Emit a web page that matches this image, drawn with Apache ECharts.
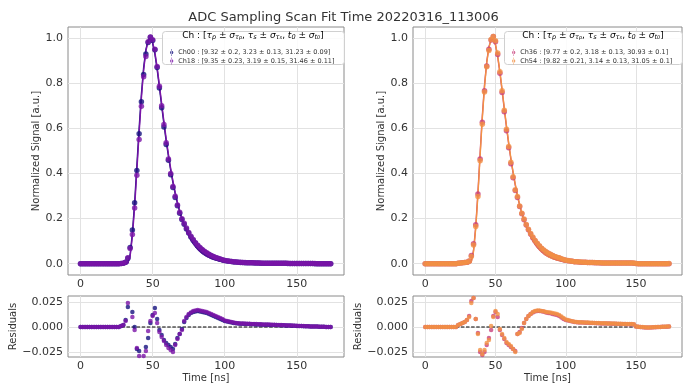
<!DOCTYPE html>
<html>
<head>
<meta charset="utf-8">
<script src="https://cdn.jsdelivr.net/npm/echarts@6/dist/echarts.min.js"></script>
<style>
  html, body { margin: 0; padding: 0; background: #ffffff; }
  #chart { width: 687px; height: 387px; }
</style>
</head>
<body>
<div id="chart"></div>
<script>
// Sample times of the ADC sampling scan [ns]
const timeNs = [
  0, 1.5625, 3.125, 4.6875, 6.25, 7.8125, 9.375, 10.9375, 12.5, 14.0625,
  15.625, 17.1875, 18.75, 20.3125, 21.875, 23.4375, 25, 26.5625, 28.125, 29.6875,
  31.25, 32.8125, 34.375, 35.9375, 37.5, 39.0625, 40.625, 42.1875, 43.75, 45.3125,
  46.875, 48.4375, 50, 51.5625, 53.125, 54.6875, 56.25, 57.8125, 59.375, 60.9375,
  62.5, 64.0625, 65.625, 67.1875, 68.75, 70.3125, 71.875, 73.4375, 75, 76.5625,
  78.125, 79.6875, 81.25, 82.8125, 84.375, 85.9375, 87.5, 89.0625, 90.625, 92.1875,
  93.75, 95.3125, 96.875, 98.4375, 100, 101.5625, 103.125, 104.6875, 106.25, 107.8125,
  109.375, 110.9375, 112.5, 114.0625, 115.625, 117.1875, 118.75, 120.3125, 121.875, 123.4375,
  125, 126.5625, 128.125, 129.6875, 131.25, 132.8125, 134.375, 135.9375, 137.5, 139.0625,
  140.625, 142.1875, 143.75, 145.3125, 146.875, 148.4375, 150, 151.5625, 153.125, 154.6875,
  156.25, 157.8125, 159.375, 160.9375, 162.5, 164.0625, 165.625, 167.1875, 168.75, 170.3125,
  171.875, 173.4375
];

// Tick labels
const timeTicks = [0, 50, 100, 150];
const signalTicks = [0, 0.2, 0.4, 0.6, 0.8, 1.0];
const residTicks = [-0.025, 0, 0.025];

// Channel labels with fit parameters
const nameCh00 = 'Ch00 : [9.32 ± 0.2, 3.23 ± 0.13, 31.23 ± 0.09]';
const nameCh18 = 'Ch18 : [9.35 ± 0.23, 3.19 ± 0.15, 31.46 ± 0.11]';
const nameCh36 = 'Ch36 : [9.77 ± 0.2, 3.18 ± 0.13, 30.93 ± 0.1]';
const nameCh54 = 'Ch54 : [9.82 ± 0.21, 3.14 ± 0.13, 31.05 ± 0.1]';

// ---- Ch00 ----
const signalCh00 = [
  0, 0, 0, 0, 0, 0, 0, 0, 0, 0,
  0, 0, 0, 0, 0, 0, 0, 0, 0.001, 0.002,
  0.007, 0.024, 0.072, 0.150, 0.270, 0.413, 0.576, 0.719, 0.839, 0.930,
  0.981, 1.004, 0.990, 0.949, 0.870, 0.779, 0.692, 0.607, 0.529, 0.459,
  0.395, 0.338, 0.294, 0.257, 0.224, 0.196, 0.175, 0.154, 0.136, 0.119,
  0.104, 0.0915, 0.080, 0.0695, 0.061, 0.0535, 0.047, 0.041, 0.035, 0.031,
  0.027, 0.023, 0.020, 0.017, 0.014, 0.0125, 0.011, 0.0095, 0.008, 0.0073,
  0.0065, 0.0058, 0.0052, 0.0048, 0.0044, 0.0041, 0.0038, 0.0035, 0.0033, 0.0031,
  0.0024, 0.0023, 0.0023, 0.0022, 0.0021, 0.0021, 0.002, 0.0019, 0.0018, 0.0018,
  0.0017, 0.0016, 0.0015, 0.0014, 0.0013, 0.0012, 0.0011, 0.001, 0.0009, 0.0008,
  0.0008, 0.0007, 0.0006, 0.0005, 0.0004, 0.0004, 0.0003, 0.0002, 0.0002, 0.0001,
  0.0001, 0
];
const fitCh00 = [
  0, 0, 0, 0, 0, 0, 0, 0, 0, 0,
  0, 0, 0, 0, 0, 0, 0, 0, 0, 0,
  0, 0.004, 0.040, 0.135, 0.270, 0.435, 0.600, 0.750, 0.870, 0.950,
  0.992, 1.000, 0.978, 0.930, 0.862, 0.782, 0.700, 0.620, 0.545, 0.477,
  0.415, 0.360, 0.311, 0.268, 0.231, 0.198, 0.170, 0.145, 0.124, 0.105,
  0.089, 0.076, 0.064, 0.054, 0.046, 0.039, 0.033, 0.028, 0.023, 0.020,
  0.017, 0.014, 0.012, 0.010, 0.008, 0.007, 0.006, 0.005, 0.004, 0.0035,
  0.003, 0.0025, 0.002, 0.0017, 0.0014, 0.0012, 0.001, 0.0008, 0.0007, 0.0006,
  0, 0, 0, 0, 0, 0, 0, 0, 0, 0,
  0, 0, 0, 0, 0, 0, 0, 0, 0, 0,
  0, 0, 0, 0, 0, 0, 0, 0, 0, 0,
  0, 0
];
const residCh00 = [
  0, 0, 0, 0, 0, 0, 0, 0, 0, 0,
  0, 0, 0, 0, 0, 0, 0, 0, 0.001, 0.002,
  0.007, 0.020, 0.032, 0.015, 0.000, -0.022, -0.024, -0.031, -0.031, -0.020,
  -0.011, 0.004, 0.012, 0.019, 0.008, -0.003, -0.008, -0.013, -0.016, -0.018,
  -0.020, -0.022, -0.017, -0.011, -0.007, -0.002, 0.005, 0.009, 0.012, 0.014,
  0.015, 0.0155, 0.016, 0.0155, 0.015, 0.0145, 0.014, 0.013, 0.012, 0.011,
  0.010, 0.009, 0.008, 0.007, 0.006, 0.0055, 0.005, 0.0045, 0.004, 0.0038,
  0.0035, 0.0033, 0.0032, 0.0031, 0.003, 0.0029, 0.0028, 0.0027, 0.0026, 0.0025,
  0.0024, 0.0023, 0.0023, 0.0022, 0.0021, 0.0021, 0.002, 0.0019, 0.0018, 0.0018,
  0.0017, 0.0016, 0.0015, 0.0014, 0.0013, 0.0012, 0.0011, 0.001, 0.0009, 0.0008,
  0.0008, 0.0007, 0.0006, 0.0005, 0.0004, 0.0004, 0.0003, 0.0002, 0.0002, 0.0001,
  0.0001, 0
];

// ---- Ch18 ----
const signalCh18 = [
  0, 0, 0, 0, 0, 0, 0, 0, 0, 0,
  0, 0, 0, 0, 0, 0, 0, 0, 0.001, 0.002,
  0.006, 0.027, 0.067, 0.130, 0.247, 0.392, 0.551, 0.699, 0.829, 0.919,
  0.985, 1.006, 0.993, 0.951, 0.875, 0.787, 0.701, 0.617, 0.537, 0.465,
  0.400, 0.342, 0.299, 0.261, 0.228, 0.199, 0.179, 0.158, 0.139, 0.1215,
  0.107, 0.0935, 0.082, 0.0715, 0.063, 0.0555, 0.049, 0.042, 0.037, 0.032,
  0.028, 0.024, 0.021, 0.018, 0.0145, 0.013, 0.0115, 0.010, 0.0085, 0.0075,
  0.0068, 0.0061, 0.0055, 0.0051, 0.0047, 0.0044, 0.0041, 0.0038, 0.0036, 0.0034,
  0.0027, 0.0026, 0.0025, 0.0025, 0.0024, 0.0023, 0.0022, 0.0021, 0.002, 0.0019,
  0.0018, 0.0017, 0.0016, 0.0015, 0.0014, 0.0013, 0.0012, 0.0011, 0.001, 0.0009,
  0.0008, 0.0007, 0.0006, 0.0005, 0.0005, 0.0004, 0.0003, 0.0003, 0.0002, 0.0001,
  0.0001, 0
];
const fitCh18 = [
  0, 0, 0, 0, 0, 0, 0, 0, 0, 0,
  0, 0, 0, 0, 0, 0, 0, 0, 0, 0,
  0, 0.003, 0.032, 0.120, 0.250, 0.413, 0.580, 0.733, 0.858, 0.943,
  0.989, 1.000, 0.982, 0.937, 0.871, 0.792, 0.711, 0.631, 0.555, 0.486,
  0.423, 0.367, 0.317, 0.273, 0.235, 0.202, 0.173, 0.148, 0.126, 0.107,
  0.091, 0.077, 0.065, 0.055, 0.047, 0.040, 0.034, 0.028, 0.024, 0.020,
  0.017, 0.014, 0.012, 0.010, 0.008, 0.007, 0.006, 0.005, 0.004, 0.0035,
  0.003, 0.0025, 0.002, 0.0017, 0.0014, 0.0012, 0.001, 0.0008, 0.0007, 0.0006,
  0, 0, 0, 0, 0, 0, 0, 0, 0, 0,
  0, 0, 0, 0, 0, 0, 0, 0, 0, 0,
  0, 0, 0, 0, 0, 0, 0, 0, 0, 0,
  0, 0
];
const residCh18 = [
  0, 0, 0, 0, 0, 0, 0, 0, 0, 0,
  0, 0, 0, 0, 0, 0, 0, 0, 0.001, 0.002,
  0.006, 0.024, 0.035, 0.010, -0.003, -0.021, -0.029, -0.034, -0.029, -0.024,
  -0.004, 0.006, 0.011, 0.014, 0.004, -0.005, -0.010, -0.014, -0.018, -0.021,
  -0.023, -0.025, -0.018, -0.012, -0.007, -0.003, 0.006, 0.010, 0.013, 0.0145,
  0.016, 0.0165, 0.017, 0.0165, 0.016, 0.0155, 0.015, 0.014, 0.013, 0.012,
  0.011, 0.010, 0.009, 0.008, 0.0065, 0.006, 0.0055, 0.005, 0.0045, 0.004,
  0.0038, 0.0036, 0.0035, 0.0034, 0.0033, 0.0032, 0.0031, 0.003, 0.0029, 0.0028,
  0.0027, 0.0026, 0.0025, 0.0025, 0.0024, 0.0023, 0.0022, 0.0021, 0.002, 0.0019,
  0.0018, 0.0017, 0.0016, 0.0015, 0.0014, 0.0013, 0.0012, 0.0011, 0.001, 0.0009,
  0.0008, 0.0007, 0.0006, 0.0005, 0.0005, 0.0004, 0.0003, 0.0003, 0.0002, 0.0001,
  0.0001, 0
];

// ---- Ch36 ----
const signalCh36 = [
  0, 0, 0, 0, 0, 0, 0, 0, 0, 0,
  0, 0, 0, 0, 0, 0.002, 0.003, 0.004, 0.005, 0.007,
  0.012, 0.036, 0.089, 0.173, 0.309, 0.465, 0.627, 0.767, 0.877, 0.951,
  0.992, 1.008, 0.985, 0.928, 0.845, 0.760, 0.674, 0.590, 0.514, 0.444,
  0.381, 0.325, 0.294, 0.254, 0.222, 0.195, 0.172, 0.151, 0.132, 0.1155,
  0.1015, 0.089, 0.078, 0.0678, 0.0592, 0.0515, 0.046, 0.0408, 0.036, 0.0315,
  0.028, 0.025, 0.0215, 0.018, 0.015, 0.0135, 0.012, 0.0105, 0.009, 0.0083,
  0.0076, 0.007, 0.0064, 0.006, 0.0056, 0.0053, 0.005, 0.0047, 0.0045, 0.0043,
  0.0036, 0.0036, 0.0035, 0.0034, 0.0034, 0.0033, 0.0032, 0.0032, 0.0031, 0.003,
  0.003, 0.0029, 0.0028, 0.0028, 0.0027, 0.0026, 0.0005, 0.0002, 0, -0.0002,
  -0.0004, -0.0005, -0.0005, -0.0004, -0.0003, -0.0002, -0.0001, 0, 0.0002, 0.0003,
  0.0003, 0.0004
];
const fitCh36 = [
  0, 0, 0, 0, 0, 0, 0, 0, 0, 0,
  0, 0, 0, 0, 0, 0, 0, 0, 0, 0,
  0.001, 0.010, 0.060, 0.165, 0.315, 0.490, 0.655, 0.792, 0.895, 0.962,
  0.995, 0.997, 0.970, 0.918, 0.848, 0.768, 0.686, 0.606, 0.532, 0.464,
  0.403, 0.349, 0.301, 0.259, 0.223, 0.191, 0.164, 0.140, 0.119, 0.101,
  0.086, 0.073, 0.062, 0.052, 0.044, 0.037, 0.032, 0.027, 0.023, 0.019,
  0.016, 0.014, 0.012, 0.010, 0.008, 0.007, 0.006, 0.005, 0.004, 0.0035,
  0.003, 0.0025, 0.002, 0.0017, 0.0014, 0.0012, 0.001, 0.0008, 0.0007, 0.0006,
  0, 0, 0, 0, 0, 0, 0, 0, 0, 0,
  0, 0, 0, 0, 0, 0, 0, 0, 0, 0,
  0, 0, 0, 0, 0, 0, 0, 0, 0, 0,
  0, 0
];
const residCh36 = [
  0, 0, 0, 0, 0, 0, 0, 0, 0, 0,
  0, 0, 0, 0, 0, 0.002, 0.003, 0.004, 0.005, 0.007,
  0.011, 0.026, 0.029, 0.008, -0.006, -0.025, -0.028, -0.025, -0.018, -0.011,
  -0.003, 0.011, 0.015, 0.010, -0.003, -0.008, -0.012, -0.016, -0.018, -0.020,
  -0.022, -0.024, -0.007, -0.005, -0.001, 0.004, 0.008, 0.011, 0.013, 0.0145,
  0.0155, 0.016, 0.016, 0.0158, 0.0152, 0.0145, 0.014, 0.0138, 0.013, 0.0125,
  0.012, 0.011, 0.0095, 0.008, 0.007, 0.0065, 0.006, 0.0055, 0.005, 0.0048,
  0.0046, 0.0045, 0.0044, 0.0043, 0.0042, 0.0041, 0.004, 0.0039, 0.0038, 0.0037,
  0.0036, 0.0036, 0.0035, 0.0034, 0.0034, 0.0033, 0.0032, 0.0032, 0.0031, 0.003,
  0.003, 0.0029, 0.0028, 0.0028, 0.0027, 0.0026, 0.0005, 0.0002, 0, -0.0002,
  -0.0004, -0.0005, -0.0005, -0.0004, -0.0003, -0.0002, -0.0001, 0, 0.0002, 0.0003,
  0.0003, 0.0004
];

// ---- Ch54 ----
const signalCh54 = [
  0, 0, 0, 0, 0, 0, 0, 0, 0, 0,
  0, 0, 0, 0, 0, 0.002, 0.003, 0.004, 0.005, 0.007,
  0.011, 0.032, 0.083, 0.165, 0.298, 0.457, 0.619, 0.762, 0.874, 0.946,
  0.995, 1.008, 0.989, 0.935, 0.851, 0.767, 0.681, 0.597, 0.520, 0.450,
  0.386, 0.328, 0.298, 0.256, 0.224, 0.198, 0.174, 0.153, 0.134, 0.118,
  0.103, 0.0905, 0.0795, 0.069, 0.0608, 0.053, 0.0468, 0.0415, 0.037, 0.0325,
  0.029, 0.026, 0.0225, 0.019, 0.0155, 0.014, 0.0123, 0.0108, 0.0093, 0.0085,
  0.0078, 0.0072, 0.0066, 0.0062, 0.0058, 0.0055, 0.0052, 0.0049, 0.0047, 0.0045,
  0.0038, 0.0037, 0.0037, 0.0036, 0.0035, 0.0035, 0.0034, 0.0033, 0.0033, 0.0032,
  0.0031, 0.0031, 0.003, 0.0029, 0.0029, 0.0028, 0.0006, 0.0003, 0.0001, -0.0001,
  -0.0003, -0.0004, -0.0004, -0.0003, -0.0002, -0.0001, 0, 0.0001, 0.0002, 0.0003,
  0.0004, 0.0005
];
const fitCh54 = [
  0, 0, 0, 0, 0, 0, 0, 0, 0, 0,
  0, 0, 0, 0, 0, 0, 0, 0, 0, 0,
  0.001, 0.008, 0.054, 0.157, 0.305, 0.480, 0.646, 0.785, 0.890, 0.959,
  0.994, 0.998, 0.973, 0.922, 0.853, 0.774, 0.692, 0.612, 0.537, 0.469,
  0.408, 0.353, 0.305, 0.262, 0.226, 0.194, 0.166, 0.142, 0.121, 0.103,
  0.087, 0.074, 0.063, 0.053, 0.045, 0.038, 0.032, 0.027, 0.023, 0.019,
  0.016, 0.014, 0.012, 0.010, 0.008, 0.007, 0.006, 0.005, 0.004, 0.0035,
  0.003, 0.0025, 0.002, 0.0017, 0.0014, 0.0012, 0.001, 0.0008, 0.0007, 0.0006,
  0, 0, 0, 0, 0, 0, 0, 0, 0, 0,
  0, 0, 0, 0, 0, 0, 0, 0, 0, 0,
  0, 0, 0, 0, 0, 0, 0, 0, 0, 0,
  0, 0
];
const residCh54 = [
  0, 0, 0, 0, 0, 0, 0, 0, 0, 0,
  0, 0, 0, 0, 0, 0.002, 0.003, 0.004, 0.005, 0.007,
  0.010, 0.024, 0.029, 0.008, -0.007, -0.023, -0.027, -0.023, -0.016, -0.013,
  0.001, 0.010, 0.016, 0.013, -0.002, -0.007, -0.011, -0.015, -0.017, -0.019,
  -0.022, -0.025, -0.007, -0.006, -0.002, 0.004, 0.008, 0.011, 0.013, 0.015,
  0.016, 0.0165, 0.0165, 0.016, 0.0158, 0.015, 0.0148, 0.0145, 0.014, 0.0135,
  0.013, 0.012, 0.0105, 0.009, 0.0075, 0.007, 0.0063, 0.0058, 0.0053, 0.005,
  0.0048, 0.0047, 0.0046, 0.0045, 0.0044, 0.0043, 0.0042, 0.0041, 0.004, 0.0039,
  0.0038, 0.0037, 0.0037, 0.0036, 0.0035, 0.0035, 0.0034, 0.0033, 0.0033, 0.0032,
  0.0031, 0.0031, 0.003, 0.0029, 0.0029, 0.0028, 0.0006, 0.0003, 0.0001, -0.0001,
  -0.0003, -0.0004, -0.0004, -0.0003, -0.0002, -0.0001, 0, 0.0001, 0.0002, 0.0003,
  0.0004, 0.0005
];

// ---------------------------------------------------------------------------
const FONT = 'DejaVu Sans';
const TXT = '#333333';
const GRIDLINE = '#e2e2e2';
const FRAME = '#8a8a8a';
const colors = { ch00: '#15127e', ch18: '#7a14a8', ch36: '#c8407c', ch54: '#f39143' };

const chart = echarts.init(document.getElementById('chart'), null, { renderer: 'canvas' });

const pairs = (arr) => timeNs.map((t, i) => [t, arr[i]]);
const zeroRef = [[timeNs[0], 0], [timeNs[timeNs.length - 1], 0]];

const panels = [
  { left: 68, width: 276 },
  { left: 413, width: 269 }
];
const grids = [];
panels.forEach(p => {
  grids.push({ left: p.left, width: p.width, top: 27, height: 248,
    show: true, borderColor: FRAME, borderWidth: 1, backgroundColor: '#fff' });
  grids.push({ left: p.left, width: p.width, top: 296, height: 61,
    show: true, borderColor: FRAME, borderWidth: 1, backgroundColor: '#fff' });
});

function makeX(gridIndex, withName) {
  return {
    type: 'value', gridIndex, min: -8.7, max: 182.7,
    axisLine: { show: false },
    axisTick: { show: false, customValues: timeTicks },
    axisLabel: { customValues: timeTicks, fontSize: 11, color: TXT, fontFamily: FONT, margin: 4 },
    splitLine: { show: true, lineStyle: { color: GRIDLINE, width: 1 } },
    name: withName ? 'Time [ns]' : '', nameLocation: 'middle', nameGap: 16,
    nameTextStyle: { fontSize: 10, color: TXT, fontFamily: FONT }
  };
}
function makeYSignal(gridIndex) {
  return {
    type: 'value', gridIndex, min: -0.05, max: 1.05,
    axisLine: { show: false },
    axisTick: { show: false, customValues: signalTicks },
    axisLabel: { customValues: signalTicks, fontSize: 11, color: TXT, fontFamily: FONT, margin: 5,
      formatter: v => v.toFixed(1) },
    splitLine: { show: true, lineStyle: { color: GRIDLINE, width: 1 } },
    name: 'Normalized Signal [a.u.]', nameLocation: 'middle', nameGap: 27,
    nameTextStyle: { fontSize: 10, color: TXT, fontFamily: FONT }
  };
}
function makeYResid(gridIndex) {
  return {
    type: 'value', gridIndex, min: -0.03, max: 0.031,
    axisLine: { show: false },
    axisTick: { show: false, customValues: residTicks },
    axisLabel: { customValues: residTicks, fontSize: 11, color: TXT, fontFamily: FONT, margin: 5,
      formatter: v => v.toFixed(3).replace('-', '\u2212') },
    splitLine: { show: true, lineStyle: { color: GRIDLINE, width: 1 } },
    name: 'Residuals', nameLocation: 'middle', nameGap: 47,
    nameTextStyle: { fontSize: 10, color: TXT, fontFamily: FONT }
  };
}

const xAxes = [makeX(0, false), makeX(1, true), makeX(2, false), makeX(3, true)];
const yAxes = [makeYSignal(0), makeYResid(1), makeYSignal(2), makeYResid(3)];

function channelSeries(name, color, sig, fit, resid, mainIdx, residIdx) {
  return [
    { name, type: 'scatter', xAxisIndex: mainIdx, yAxisIndex: mainIdx, data: pairs(sig),
      symbol: 'circle', symbolSize: 5.5, itemStyle: { color }, z: 2 },
    { name: name + ' fit', type: 'line', xAxisIndex: mainIdx, yAxisIndex: mainIdx, data: pairs(fit),
      symbol: 'none', showSymbol: false, lineStyle: { color, width: 1.4 }, itemStyle: { color }, z: 2 },
    { name: name + ' residual', type: 'scatter', xAxisIndex: residIdx, yAxisIndex: residIdx, data: pairs(resid),
      symbol: 'circle', symbolSize: 4.5, itemStyle: { color }, z: 3 }
  ];
}

function zeroLine(idx) {
  return { name: 'zero', type: 'line', xAxisIndex: idx, yAxisIndex: idx, data: zeroRef,
    symbol: 'none', lineStyle: { color: '#000', width: 1, type: [3.5, 1.6] }, z: 2 };
}

const series = [].concat(
  zeroLine(1), zeroLine(3),
  channelSeries(nameCh00, colors.ch00, signalCh00, fitCh00, residCh00, 0, 1),
  channelSeries(nameCh18, colors.ch18, signalCh18, fitCh18, residCh18, 0, 1),
  channelSeries(nameCh36, colors.ch36, signalCh36, fitCh36, residCh36, 2, 3),
  channelSeries(nameCh54, colors.ch54, signalCh54, fitCh54, residCh54, 2, 3)
);

// Error-bar style legend marker
const barIcon = 'path://M4.6,0h0.8v10h-0.8zM5,2.6a2.4,2.4 0 1,0 0.001,0z';

function legendBlock(names, left) {
  return {
    data: names.map(n => ({ name: n, icon: barIcon })),
    orient: 'vertical', left, top: 44, itemWidth: 5, itemHeight: 7, itemGap: 1.5,
    selectedMode: false, z: 30,
    textStyle: { fontSize: 6.5, color: TXT, fontFamily: FONT, padding: [0, 0, 0, -1] }
  };
}

const headerRich = {
  m: { fontSize: 9, fontFamily: FONT, color: TXT },
  g: { fontSize: 9, fontFamily: FONT, color: TXT, fontStyle: 'italic' },
  s: { fontSize: 6.5, fontFamily: FONT, color: TXT, fontStyle: 'italic', verticalAlign: 'bottom' },
  ss: { fontSize: 5, fontFamily: FONT, color: TXT, fontStyle: 'italic', verticalAlign: 'bottom' }
};
const headerText =
  '{m|Ch : [}{g|τ}{s|p}{m| ± }{g|σ}{s|τ}{ss|p}{m|, }{g|τ}{s|s}{m| ± }{g|σ}{s|τ}{ss|s}{m|, }' +
  '{g|t}{s|0}{m| ± }{g|σ}{s|t}{ss|0}{m|]}';

function legendFrame(x, w, cx) {
  return [
    { type: 'rect', left: x, top: 31, z: 20, silent: true,
      shape: { width: w, height: 33, r: 3 },
      style: { fill: 'rgba(255,255,255,0.85)', stroke: '#d0d0d0', lineWidth: 1 } },
    { type: 'text', x: cx, y: 31.5, z: 21, silent: true,
      style: { text: headerText, rich: headerRich, align: 'center', verticalAlign: 'top' } }
  ];
}

chart.setOption({
  animation: false,
  backgroundColor: '#ffffff',
  title: {
    text: 'ADC Sampling Scan Fit Time 20220316_113006',
    left: 'center', top: 6,
    textStyle: { fontSize: 13, fontWeight: 'normal', color: TXT, fontFamily: FONT }
  },
  grid: grids,
  xAxis: xAxes,
  yAxis: yAxes,
  legend: [
    legendBlock([nameCh00, nameCh18], 165),
    legendBlock([nameCh36, nameCh54], 507)
  ],
  graphic: [].concat(legendFrame(162, 182, 253), legendFrame(504, 178, 593)),
  series
});
</script>
</body>
</html>
